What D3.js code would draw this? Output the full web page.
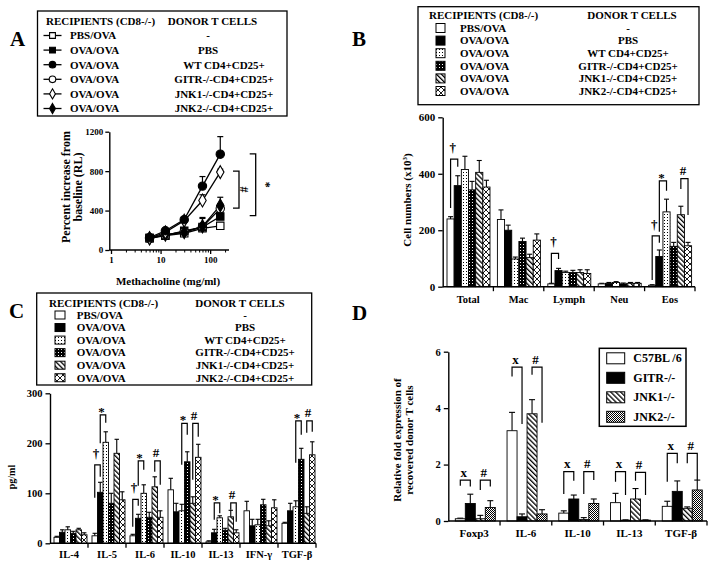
<!DOCTYPE html>
<html><head><meta charset="utf-8">
<script src="https://cdn.jsdelivr.net/npm/d3@7"></script>
<style>
body{margin:0;background:#fff}
text{font-family:"Liberation Serif","Times New Roman",serif;font-weight:bold;fill:#000}
</style>
</head><body><script>
// ---------------- DATA ----------------
const recipients = ["PBS/OVA","OVA/OVA","OVA/OVA","OVA/OVA","OVA/OVA","OVA/OVA"];
const donors = ["-","PBS","WT CD4+CD25+","GITR-/-CD4+CD25+","JNK1-/-CD4+CD25+","JNK2-/-CD4+CD25+"];

// Panel A: methacholine dose response
const aDoses = [6,12.5,30,70,160];
const aPbsOva = [118,145,170,220,245];
const aOvaPbs = [125,148,195,232,340];
const aWT     = [125,195,308,648,972];
const aGITR   = [120,150,185,235,420];
const aJNK1   = [118,180,298,502,790];
const aJNK2   = [120,155,180,240,452];
const aPbsOvaErr = [125,150,180,235,255];
const aOvaPbsErr = [130,155,210,260,380];
const aWTErr     = [135,210,330,745,1150];
const aGITRErr   = [125,160,195,320,470];
const aJNK1Err   = [125,195,315,560,820];
const aJNK2Err   = [128,165,195,330,535];
const aYTicks = [0,400,800,1200];
const aXTicks = [1,10,100];

// Panel B: BAL cell numbers (x10^3)
const bCats = ["Total","Mac","Lymph","Neu","Eos"];
const bPbsOva = [240,238,10,10,5];
const bOvaPbs = [358,200,57,12,107];
const bWT     = [415,98,50,15,265];
const bGITR   = [343,160,50,10,143];
const bJNK1   = [405,103,50,12,255];
const bJNK2   = [353,165,47,12,145];
const bPbsOvaErr = [248,272,12,12,7];
const bOvaPbsErr = [393,218,65,15,130];
const bWTErr     = [462,105,55,18,310];
const bGITRErr   = [373,172,58,13,157];
const bJNK1Err   = [447,115,60,15,285];
const bJNK2Err   = [377,187,60,15,157];
const bYTicks = [0,200,400,600];
// [category, barA, barB, top, legA end, legB end, symbol]
const bBrackets = [
  ["Total",0,1,452,279,425,"†"],
  ["Lymph",0,1,118,13,98,"†"],
  ["Eos",0,1,180,24,156,"†"],
  ["Eos",1,2,375,195,340,"*"],
  ["Eos",4,5,383,346,254,"#"]
];

// Panel C: cytokines (pg/ml)
const cCats = ["IL-4","IL-5","IL-6","IL-10","IL-13","IFN-γ","TGF-β"];
const cPbsOva = [12,15,15,107,3,65,40];
const cOvaPbs = [22,102,50,63,21,35,65];
const cWT     = [27,202,100,65,51,37,73];
const cGITR   = [20,80,52,163,26,77,168];
const cJNK1   = [27,180,113,80,53,35,60];
const cJNK2   = [17,87,52,172,21,71,177];
const cPbsOvaErr = [14,20,18,130,5,84,42];
const cOvaPbsErr = [27,122,58,80,28,48,80];
const cWTErr     = [33,223,117,78,55,48,85];
const cGITRErr   = [24,100,62,183,30,88,190];
const cJNK1Err   = [30,208,133,93,66,45,73];
const cJNK2Err   = [21,103,65,198,27,87,203];
const cYTicks = [0,100,200,300];
const cBrackets = [
  ["IL-5",0,1,157,91,133,"†"],
  ["IL-5",1,2,257,200,241,"*"],
  ["IL-6",0,1,88,33,75,"†"],
  ["IL-6",1,2,165,115,147,"*"],
  ["IL-6",4,5,165,143,117,"#"],
  ["IL-10",2,3,240,157,217,"*"],
  ["IL-10",4,5,240,127,213,"#"],
  ["IL-13",1,2,81,47,60,"*"],
  ["IL-13",4,5,81,67,43,"#"],
  ["TGF-β",2,3,245,161,217,"*"],
  ["TGF-β",4,5,245,221,223,"#"]
];

// Panel D: relative fold expression
const dCats = ["Foxp3","IL-6","IL-10","IL-13","TGF-β"];
const dNames = ["C57BL /6","GITR-/-","JNK1-/-","JNK2-/-"];
const dC57  = [0.08,3.2,0.28,0.65,0.52];
const dGITR = [0.62,0.15,0.78,0.03,1.05];
const dJNK1 = [0.08,3.8,0.05,0.78,0.45];
const dJNK2 = [0.48,0.25,0.62,0.03,1.1];
const dC57Err  = [0.1,3.85,0.36,0.98,0.7];
const dGITRErr = [0.95,0.25,0.92,0.04,1.42];
const dJNK1Err = [0.2,4.3,0.12,1.15,0.5];
const dJNK2Err = [0.72,0.4,0.78,0.04,1.45];
const dYTicks = [0,2,4,6];
const dBrackets = [
  ["Foxp3",0,1,1.45,1.25,1.22,"x"],
  ["Foxp3",2,3,1.45,1.1,1.22,"#"],
  ["IL-6",0,1,5.45,5.12,3.44,"x"],
  ["IL-6",2,3,5.45,5.18,3.48,"#"],
  ["IL-10",0,1,1.75,0.96,1.43,"x"],
  ["IL-10",2,3,1.75,0.96,1.45,"#"],
  ["IL-13",0,1,1.75,1.39,0.92,"x"],
  ["IL-13",2,3,1.72,1.43,0.92,"#"],
  ["TGF-β",0,1,2.4,1.39,2.05,"x"],
  ["TGF-β",2,3,2.4,2.05,1.45,"#"]
];

// ---------------- DRAWING ----------------
const svg = d3.select("body").append("svg").attr("width",712).attr("height",566);
const defs = svg.append("defs");
function mkPat(id,w,h,bg,fn,tr){
  const p = defs.append("pattern").attr("id",id).attr("patternUnits","userSpaceOnUse").attr("width",w).attr("height",h);
  if(tr) p.attr("patternTransform",tr);
  p.append("rect").attr("width",w).attr("height",h).attr("fill",bg);
  fn(p);
}
mkPat("pWT",3,3,"#fff",p=>p.append("rect").attr("x",1).attr("y",1).attr("width",1).attr("height",1).attr("fill","#000"));
mkPat("pGITR",3,3,"#000",p=>p.append("rect").attr("x",1).attr("y",1).attr("width",1).attr("height",1).attr("fill","#fff"));
mkPat("pHatch",3.5,3.5,"#fff",p=>p.append("rect").attr("width",1.3).attr("height",3.5).attr("fill","#000"),"rotate(-45)");
mkPat("pCross",6,6,"#fff",p=>p.append("path").attr("d","M0,0L6,6M6,0L0,6").attr("stroke","#000").attr("stroke-width",0.9));
mkPat("pCheck",2,2,"#fff",p=>{p.append("rect").attr("width",1).attr("height",1).attr("fill","#000");p.append("rect").attr("x",1).attr("y",1).attr("width",1).attr("height",1).attr("fill","#000");});

const fillsBC = ["#fff","#000","url(#pWT)","url(#pGITR)","url(#pHatch)","url(#pCross)"];
const fillsD = ["#fff","#000","url(#pHatch)","url(#pCheck)"];

function txt(g,x,y,s,size,anchor){
  return g.append("text").attr("x",x).attr("y",y).attr("font-size",size).attr("text-anchor",anchor||"start").text(s);
}
function styleAxis(g,size){
  g.attr("font-size",size);
  g.selectAll("path.domain").attr("stroke-width",1.4);
  g.selectAll(".tick line").attr("stroke-width",1.3);
}

// panel letters
txt(svg,10,46,"A",21);
txt(svg,352,46,"B",21);
txt(svg,9,318,"C",21);
txt(svg,352,320,"D",21);

// ===== Panel A =====
const symFns = [d3.symbolSquare,d3.symbolSquare,d3.symbolCircle,d3.symbolCircle,d3.symbolDiamond,d3.symbolDiamond];
const symFilled = [false,true,true,false,false,true];
const legA = svg.append("g");
legA.append("rect").attr("x",37.5).attr("y",11).attr("width",249.5).attr("height",105).attr("fill","none").attr("stroke","#000").attr("stroke-width",1.3);
txt(legA,46,24.5,"RECIPIENTS (CD8-/-)",11);
txt(legA,212.5,24.5,"DONOR T CELLS",11,"middle");
recipients.forEach((r,i)=>{
  const y = 35.5+i*14.6;
  legA.append("line").attr("x1",43.5).attr("x2",61.5).attr("y1",y).attr("y2",y).attr("stroke","#000").attr("stroke-width",1.3);
  legA.append("path").attr("d",d3.symbol().type(symFns[i]).size(i>=4?30:34)()).attr("transform",`translate(52.5,${y})`)
    .attr("fill",symFilled[i]?"#000":"#fff").attr("stroke","#000").attr("stroke-width",1.1);
  txt(legA,70,y+3.8,r,11);
  txt(legA,donors[i].length<4?208:224,y+3.8,donors[i],11,"middle");
});

const xA = d3.scaleLog().domain([1,240]).range([111,229]);
const yA = d3.scaleLinear().domain([0,1200]).range([250,131.7]);
const gA = svg.append("g");
const yAx = gA.append("g").attr("transform","translate(109.3,0)")
  .call(d3.axisLeft(yA).tickValues(aYTicks).tickSize(4).tickSizeOuter(0).tickPadding(2).tickFormat(d3.format("d")));
styleAxis(yAx,9);
gA.append("line").attr("x1",109.3).attr("x2",229).attr("y1",250).attr("y2",250).attr("stroke","#000").attr("stroke-width",1.4);
const minorA = [];
[1,10,100].forEach(dec=>{for(let k=2;k<=9;k++){ if(dec*k<=240) minorA.push(dec*k);} });
const xAxMinor = gA.append("g").attr("transform","translate(0,250)")
  .call(d3.axisBottom(xA).tickValues(minorA).tickSize(2.5).tickFormat(""));
xAxMinor.select(".domain").remove();
const xAx = gA.append("g").attr("transform","translate(0,250)")
  .call(d3.axisBottom(xA).tickValues(aXTicks).tickSize(4).tickPadding(3).tickFormat(d3.format("d")));
xAx.select(".domain").remove();
styleAxis(xAx,9);
xAxMinor.selectAll(".tick line").attr("stroke-width",1);

const aSeries = [aPbsOva,aOvaPbs,aWT,aGITR,aJNK1,aJNK2];
const aErrs = [aPbsOvaErr,aOvaPbsErr,aWTErr,aGITRErr,aJNK1Err,aJNK2Err];
aSeries.forEach((vals,i)=>{
  aDoses.forEach((d,j)=>{
    const cx = xA(d);
    gA.append("line").attr("x1",cx).attr("x2",cx).attr("y1",yA(vals[j])).attr("y2",yA(aErrs[i][j])).attr("stroke","#000").attr("stroke-width",1.2);
    gA.append("line").attr("x1",cx-3).attr("x2",cx+3).attr("y1",yA(aErrs[i][j])).attr("y2",yA(aErrs[i][j])).attr("stroke","#000").attr("stroke-width",1.2);
  });
});
aSeries.forEach((vals,i)=>{
  gA.append("path").attr("d",d3.line()(aDoses.map((d,j)=>[xA(d),yA(vals[j])])))
    .attr("fill","none").attr("stroke","#000").attr("stroke-width",1.3);
});
const drawOrder = [0,1,3,5,4,2];
drawOrder.forEach(i=>{
  aDoses.forEach((d,j)=>{
    gA.append("path").attr("d",d3.symbol().type(symFns[i]).size(symFns[i]===d3.symbolDiamond?48:55)())
      .attr("transform",`translate(${xA(d)},${yA(aSeries[i][j])})`)
      .attr("fill",symFilled[i]?"#000":"#fff").attr("stroke","#000").attr("stroke-width",1.1);
  });
});
// significance brackets A
function vBracket(x,v1,v2,sym,sx){
  const p = `M${x-6},${yA(v1)}H${x}V${yA(v2)}H${x-6}`;
  gA.append("path").attr("d",p).attr("fill","none").attr("stroke","#000").attr("stroke-width",1.3);
  gA.append("text").attr("transform",`translate(${sx},${(yA(v1)+yA(v2))/2}) rotate(90)`).attr("text-anchor","middle").attr("dy","0.35em").attr("font-size",12).text(sym);
}
vBracket(239,800,425,"#",244.5);
vBracket(255.7,975,348,"*",266);
// axis titles A
gA.append("text").attr("transform","translate(69.5,187) rotate(-90)").attr("text-anchor","middle").attr("font-size",12).text("Percent increase from");
gA.append("text").attr("transform","translate(82,187) rotate(-90)").attr("text-anchor","middle").attr("font-size",12).text("baseline (RL)");
txt(gA,168,285,"Methacholine (mg/ml)",11,"middle");

// ===== Bar chart helper =====
function barChart(o){
  const g = svg.append("g");
  const xb = d3.scaleBand().domain(o.cats).range([o.x0,o.x1]);
  const xi = d3.scaleBand().domain(d3.range(o.series.length)).range([o.in0,o.in1]);
  const y0 = o.y(0);
  o.series.forEach((vals,s)=>{
    vals.forEach((v,k)=>{
      const x = xb(o.cats[k])+xi(s), cx = x+xi.bandwidth()/2, ye = o.y(o.errs[s][k]);
      g.append("line").attr("x1",cx).attr("x2",cx).attr("y1",o.y(v)).attr("y2",ye).attr("stroke","#000").attr("stroke-width",1.1);
      g.append("line").attr("x1",cx-o.cap).attr("x2",cx+o.cap).attr("y1",ye).attr("y2",ye).attr("stroke","#000").attr("stroke-width",1.1);
    });
  });
  o.series.forEach((vals,s)=>{
    vals.forEach((v,k)=>{
      const x = xb(o.cats[k])+xi(s);
      g.append("rect").attr("x",x).attr("y",o.y(v)).attr("width",xi.bandwidth()).attr("height",Math.max(0,y0-o.y(v)))
        .attr("fill",o.fills[s]).attr("stroke","#000").attr("stroke-width",0.9);
    });
  });
  // y axis
  const ya = g.append("g").attr("transform",`translate(${o.ax},0)`)
    .call(d3.axisLeft(o.y).tickValues(o.ticks).tickSize(4.5).tickSizeOuter(0).tickPadding(3).tickFormat(d3.format("d")));
  styleAxis(ya,o.tickFont);
  // x axis
  g.append("line").attr("x1",o.ax).attr("x2",o.x1).attr("y1",y0).attr("y2",y0).attr("stroke","#000").attr("stroke-width",1.4);
  o.cats.forEach(c=>{
    const sx = xb(c)+xb.bandwidth();
    g.append("line").attr("x1",sx).attr("x2",sx).attr("y1",y0).attr("y2",y0+4.5).attr("stroke","#000").attr("stroke-width",1.3);
  });
  const xa = g.append("g").attr("transform",`translate(0,${y0})`)
    .call(d3.axisBottom(xb).tickSize(0).tickPadding(o.labPad));
  xa.select(".domain").remove();
  xa.attr("font-size",o.catFont);
  // brackets
  o.brackets.forEach(b=>{
    const xa1 = xb(b[0])+xi(b[1])+xi.bandwidth()/2, xb1 = xb(b[0])+xi(b[2])+xi.bandwidth()/2;
    const top = o.y(b[3]);
    g.append("path").attr("d",`M${xa1},${o.y(b[4])}V${top}H${xb1}V${o.y(b[5])}`)
      .attr("fill","none").attr("stroke","#000").attr("stroke-width",1.2);
    const sym = b[6];
    const by = sym==="*"? top+1 : (sym==="†"? top-7 : top-3.5);
    txt(g,(xa1+xb1)/2-1.5,by,sym,13,"middle");
  });
  return g;
}

// ===== Panel B =====
const legB = svg.append("g");
legB.append("rect").attr("x",418).attr("y",6.7).attr("width",281).attr("height",98).attr("fill","none").attr("stroke","#000").attr("stroke-width",1.3);
txt(legB,429,19,"RECIPIENTS (CD8-/-)",11);
txt(legB,632,19,"DONOR T CELLS",11,"middle");
recipients.forEach((r,i)=>{
  const y = 28+i*12.6;
  legB.append("rect").attr("x",436).attr("y",y-4.5).attr("width",9).attr("height",9).attr("fill",fillsBC[i]).attr("stroke","#000").attr("stroke-width",1);
  txt(legB,460,y+3.8,r,11);
  txt(legB,628,y+3.8,donors[i],11,"middle");
});
const yB = d3.scaleLinear().domain([0,600]).range([286.7,117.3]);
const gB = barChart({cats:bCats,series:[bPbsOva,bOvaPbs,bWT,bGITR,bJNK1,bJNK2],
  errs:[bPbsOvaErr,bOvaPbsErr,bWTErr,bGITRErr,bJNK1Err,bJNK2Err],fills:fillsBC,
  x0:443,x1:695,in0:4,in1:47,y:yB,ax:442.7,ticks:bYTicks,tickFont:11,catFont:10.5,labPad:9,cap:2.5,brackets:bBrackets});
const bLab = gB.append("text").attr("transform","translate(411,200) rotate(-90)").attr("text-anchor","middle").attr("font-size",11);
bLab.append("tspan").text("Cell numbers (x10");
bLab.append("tspan").attr("font-size",7).attr("dy",-4).text("3");
bLab.append("tspan").attr("dy",4).text(")");

// ===== Panel C =====
const legC = svg.append("g");
legC.append("rect").attr("x",36.7).attr("y",293).attr("width",275).attr("height",92).attr("fill","none").attr("stroke","#000").attr("stroke-width",1.3);
txt(legC,49,306.5,"RECIPIENTS (CD8-/-)",11);
txt(legC,240,306.5,"DONOR T CELLS",11,"middle");
recipients.forEach((r,i)=>{
  const y = 315+i*12.55;
  legC.append("rect").attr("x",55).attr("y",y-4).attr("width",10).attr("height",8).attr("fill",fillsBC[i]).attr("stroke","#000").attr("stroke-width",1);
  txt(legC,76.7,y+3.8,r,11);
  txt(legC,245,y+3.8,donors[i],11,"middle");
});
const yC = d3.scaleLinear().domain([0,300]).range([543.3,393.3]);
const gC = barChart({cats:cCats,series:[cPbsOva,cOvaPbs,cWT,cGITR,cJNK1,cJNK2],
  errs:[cPbsOvaErr,cOvaPbsErr,cWTErr,cGITRErr,cJNK1Err,cJNK2Err],fills:fillsBC,
  x0:50,x1:316,in0:4,in1:37,y:yC,ax:50,ticks:cYTicks,tickFont:10.5,catFont:10.5,labPad:7,cap:2.2,brackets:cBrackets});
gC.append("text").attr("transform","translate(15,477) rotate(-90)").attr("text-anchor","middle").attr("font-size",10).text("pg/ml");

// ===== Panel D =====
const yD = d3.scaleLinear().domain([0,6]).range([521,351.7]);
const gD = barChart({cats:dCats,series:[dC57,dGITR,dJNK1,dJNK2],
  errs:[dC57Err,dGITRErr,dJNK1Err,dJNK2Err],fills:fillsD,
  x0:448.3,x1:707,in0:7,in1:47,y:yD,ax:448.3,ticks:dYTicks,tickFont:10.5,catFont:11,labPad:8,cap:3,brackets:dBrackets});
gD.append("text").attr("transform","translate(401,440) rotate(-90)").attr("text-anchor","middle").attr("font-size",11).text("Relative fold expression of");
gD.append("text").attr("transform","translate(413,440) rotate(-90)").attr("text-anchor","middle").attr("font-size",11).text("recovered donor T cells");
const legD = svg.append("g");
legD.append("rect").attr("x",599.3).attr("y",348.3).attr("width",86.7).attr("height",78).attr("fill","none").attr("stroke","#000").attr("stroke-width",1.5);
dNames.forEach((n,i)=>{
  const y = 358.3+i*19.5;
  legD.append("rect").attr("x",606.7).attr("y",y-5.5).attr("width",18).attr("height",11).attr("fill",fillsD[i]).attr("stroke","#000").attr("stroke-width",1);
  txt(legD,633.3,y+4,n,12);
});
</script></body></html>
